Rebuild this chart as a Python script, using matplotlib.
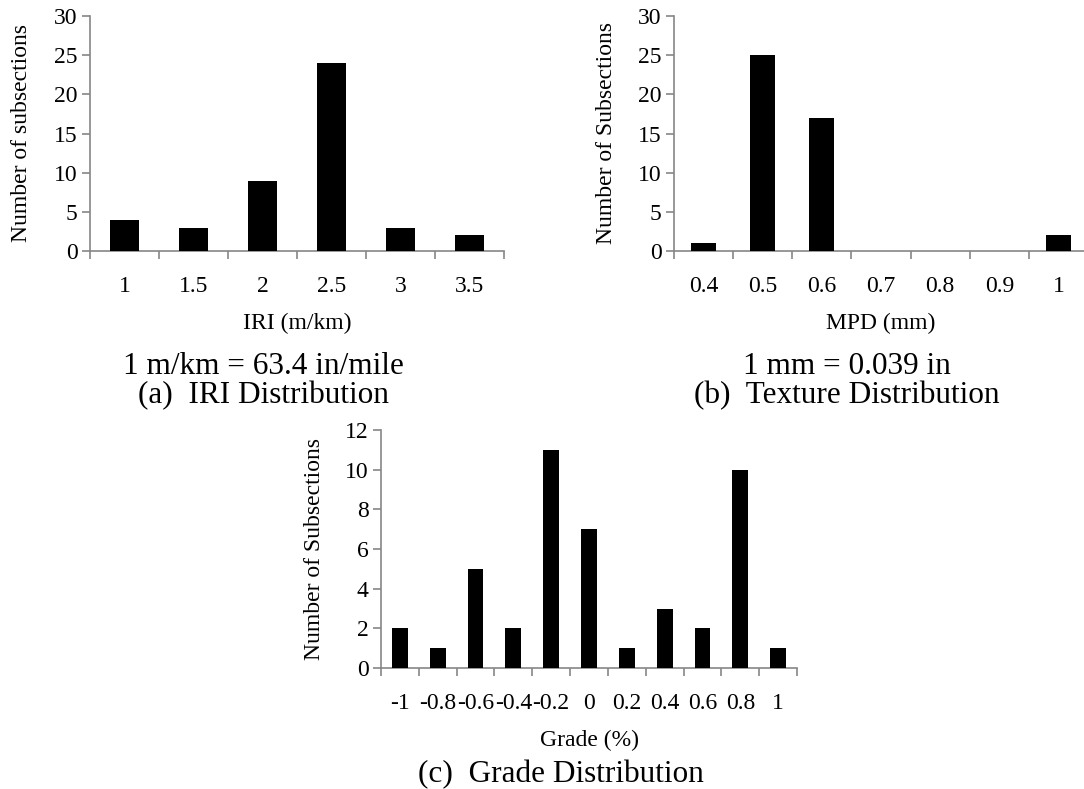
import matplotlib
matplotlib.use("Agg")
import matplotlib.pyplot as plt
import numpy as np

plt.rcParams['font.family'] = ['Liberation Serif', 'DejaVu Serif']

# data
iri_bins = ['1', '1.5', '2', '2.5', '3', '3.5']
iri_counts = [4, 3, 9, 24, 3, 2]

mpd_bins = ['0.4', '0.5', '0.6', '0.7', '0.8', '0.9', '1']
mpd_counts = [1, 25, 17, 0, 0, 0, 2]

grade_bins = ['-1', '-0.8', '-0.6', '-0.4', '-0.2', '0', '0.2', '0.4', '0.6', '0.8', '1']
grade_counts = [2, 1, 5, 2, 11, 7, 1, 3, 2, 10, 1]

W, H = 1084, 789
AXIS_GRAY = '#868686'
TICK_FS = 17
LABEL_FS = 17
CAP_FS = 22.5


def px_axes(fig, left, top, right, bottom):
    # axes placed by pixel box of the reference
    return fig.add_axes([left / W, 1 - bottom / H, (right - left) / W, (bottom - top) / H])


def bar_panel(ax, bins, counts, ymax, ystep, ylabel, xlabel, width_px, height_px, ylab_off):
    x = np.arange(len(bins))
    ax.bar(x, counts, width=0.42, color='black', zorder=3)
    ax.set_xlim(-0.5, len(bins) - 0.5)
    ax.set_ylim(0, ymax)
    ax.set_yticks(np.arange(0, ymax + 1, ystep))
    ax.set_xticks(x)
    ax.set_xticklabels(bins)
    ax.set_xticks(np.arange(len(bins) + 1) - 0.5, minor=True)

    for s in ['top', 'right']:
        ax.spines[s].set_visible(False)
    for s in ['left', 'bottom']:
        ax.spines[s].set_color(AXIS_GRAY)
        ax.spines[s].set_linewidth(1.2)

    ax.tick_params(axis='x', which='major', length=0, pad=18, labelsize=TICK_FS)
    ax.tick_params(axis='x', which='minor', length=6, width=1.2, color=AXIS_GRAY, direction='out')
    ax.tick_params(axis='y', length=6, width=1.2, color=AXIS_GRAY, direction='out',
                   pad=3, labelsize=TICK_FS)

    ax.set_ylabel(ylabel, fontsize=LABEL_FS, va='center')
    ax.yaxis.set_label_coords(-ylab_off / width_px, 0.5)
    ax.set_xlabel(xlabel, fontsize=LABEL_FS)
    ax.xaxis.label.set_va('baseline')
    ax.xaxis.set_label_coords(0.5, -78 / height_px)


fig = plt.figure(figsize=(W / 100, H / 100), dpi=100)

ax1 = px_axes(fig, 90, 16, 504, 251)
bar_panel(ax1, iri_bins, iri_counts, 30, 5, 'Number of subsections', 'IRI (m/km)', 414, 235, 68)

ax2 = px_axes(fig, 674, 16, 1088, 251)
bar_panel(ax2, mpd_bins, mpd_counts, 30, 5, 'Number of Subsections', 'MPD (mm)', 414, 235, 67)

ax3 = px_axes(fig, 381, 430, 797, 668)
bar_panel(ax3, grade_bins, grade_counts, 12, 2, 'Number of Subsections', 'Grade (%)', 416, 238, 66)

# captions below the panels
fig.text(263 / W, 1 - 374 / H, '1 m/km = 63.4 in/mile', ha='center', va='baseline', fontsize=CAP_FS)
fig.text(264 / W, 1 - 403 / H, '(a)  IRI Distribution', ha='center', va='baseline', fontsize=CAP_FS)
fig.text(847 / W, 1 - 374 / H, '1 mm = 0.039 in', ha='center', va='baseline', fontsize=CAP_FS)
fig.text(847 / W, 1 - 403 / H, '(b)  Texture Distribution', ha='center', va='baseline', fontsize=CAP_FS)
fig.text(561 / W, 1 - 782 / H, '(c)  Grade Distribution', ha='center', va='baseline', fontsize=CAP_FS)

fig.savefig('out.png', dpi=100)
